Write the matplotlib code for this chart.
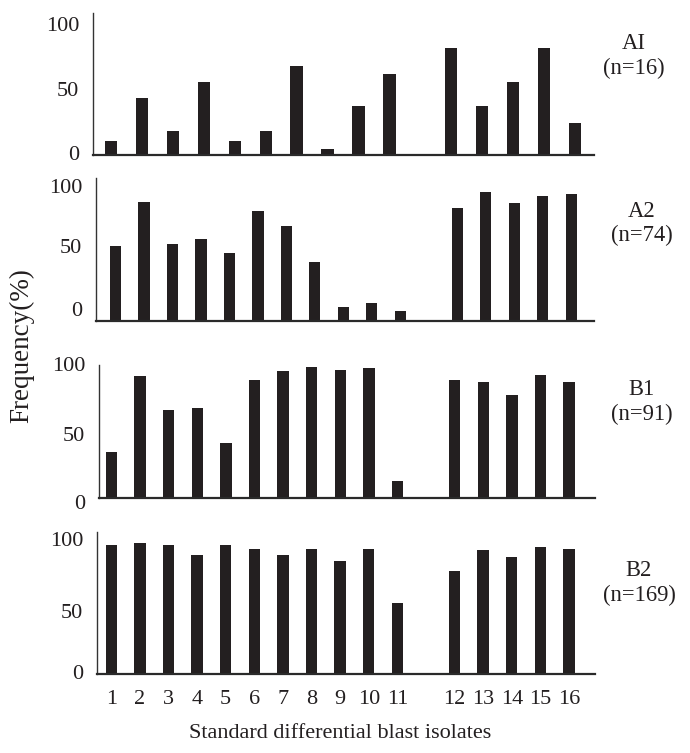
import matplotlib
matplotlib.use('Agg')
import matplotlib.pyplot as plt
import matplotlib.transforms as mtransforms

plt.rcParams['font.family'] = ['Liberation Serif', 'DejaVu Serif']

# data (frequency in %)
isolates = [str(i) for i in range(1, 17)]
groups = ['AI', 'A2', 'B1', 'B2']
counts = [16, 74, 91, 169]
freq_ai = [11, 43, 18, 55, 11, 18, 67, 5, 37, 61, 0, 80, 37, 55, 80, 24]
freq_a2 = [56, 88.5, 57, 61, 51, 82, 71, 44, 10, 13, 7, 84, 96.5, 88, 93, 95]
freq_b1 = [34.5, 91, 66, 67, 41.5, 88, 95, 98, 95.5, 97, 12.7, 88.5, 87, 77, 92, 86.5]
freq_b2 = [97, 98.5, 97, 89.5, 96.5, 93.5, 89, 94, 84.5, 94, 53, 77, 93, 88, 95.5, 94]
freqs = [freq_ai, freq_a2, freq_b1, freq_b2]

W, H = 690, 753
INK = '#231f20'

# panel layout in pixels (the source panels are not quite aligned)
panels = [
    dict(left=93.3, right=594, top=12.7, bottom=155.3, ytop=106.7, gap=False,
         xlim=(-0.58, 15.62), ticky=[0, 47.6, 96.6], lab=(634, 56)),
    dict(left=96, right=594, top=178.3, bottom=320.7, ytop=106.5, gap=True,
         xlim=(-0.68, 16.8), ticky=[6.7, 54, 99], lab=(642, 223.5)),
    dict(left=99.3, right=595, top=365, bottom=498, ytop=99.5, gap=True,
         xlim=(-0.43, 16.91), ticky=[-5.2, 45.9, 98.7], lab=(642, 402)),
    dict(left=97.3, right=595, top=532.3, bottom=674.3, ytop=106.2, gap=True,
         xlim=(-0.49, 16.91), ticky=[0, 45.6, 99], lab=(639, 583)),
]

fig = plt.figure(figsize=(W / 100, H / 100), dpi=100)

for k, p in enumerate(panels):
    ax = fig.add_axes([p['left'] / W, 1 - p['bottom'] / H,
                       (p['right'] - p['left']) / W, (p['bottom'] - p['top']) / H])
    if p['gap']:
        pos = [i if i < 11 else i + 1 for i in range(len(freqs[k]))]
    else:
        pos = list(range(len(freqs[k])))
    ax.bar(pos, freqs[k], width=0.4, color=INK)
    ax.set_xlim(*p['xlim'])
    ax.set_ylim(0, p['ytop'])

    for s in ['top', 'right']:
        ax.spines[s].set_visible(False)
    ax.spines['left'].set_linewidth(1.0)
    ax.spines['left'].set_color('#333333')
    ax.spines['bottom'].set_linewidth(1.6)
    ax.spines['bottom'].set_color('#2a2a2a')

    ax.set_yticks([])
    tr = mtransforms.offset_copy(ax.get_yaxis_transform(), fig=fig, x=-14, y=0, units='dots')
    for yv, txt in zip(p['ticky'], ['0', '50', '100']):
        ax.text(0, yv, txt, transform=tr, ha='right', va='center', fontsize=16,
                color=INK, clip_on=False)

    if k == len(panels) - 1:
        ax.set_xticks(pos, isolates)
        ax.tick_params(axis='x', length=0, pad=11, labelsize=16, labelcolor=INK)
    else:
        ax.set_xticks([])

    fig.text(p['lab'][0] / W, 1 - p['lab'][1] / H, f"{groups[k]}\n(n={counts[k]})",
             ha='center', va='center', fontsize=16.3, linespacing=1.2, color=INK)

fig.text(22 / W, 1 - 346 / H, 'Frequency(%)', rotation=90, ha='center', va='center',
         fontsize=19.5, color=INK)
fig.text(340 / W, 1 - 734 / H, 'Standard differential blast isolates', ha='center',
         va='center', fontsize=16, color=INK)

fig.savefig('out.png', dpi=100)
